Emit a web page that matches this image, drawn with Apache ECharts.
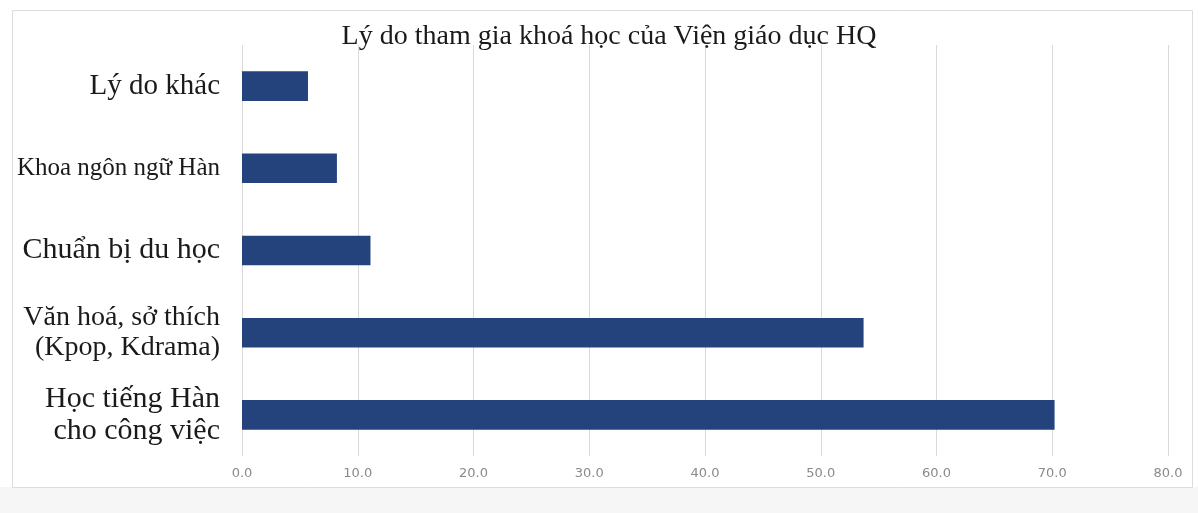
<!DOCTYPE html>
<html>
<head>
<meta charset="utf-8">
<script src="https://cdn.jsdelivr.net/npm/echarts@6/dist/echarts.min.js"></script>
<style>
html,body{margin:0;padding:0;background:#ffffff;}
#c{width:1198px;height:513px;}
</style>
</head>
<body>
<div id="c"></div>
<script>
const titleText = 'Lý do tham gia khoá học của Viện giáo dục HQ';
const categories = ['Học tiếng Hàn\ncho công việc', 'Văn hoá, sở thích\n(Kpop, Kdrama)', 'Chuẩn bị du học', 'Khoa ngôn ngữ Hàn', 'Lý do khác'];
const labelSizes = [30, 28, 30, 25, 29];
const values = [70.2, 53.7, 11.1, 8.2, 5.7];
const xTicks = [0, 10, 20, 30, 40, 50, 60, 70, 80];

const chart = echarts.init(document.getElementById('c'));
chart.setOption({
  backgroundColor: '#ffffff',
  animation: false,
  title: {
    text: titleText,
    left: 604, top: 18, textAlign: 'center',
    textStyle: {fontFamily: 'Liberation Serif', fontSize: 28, fontWeight: 'normal', color: '#1a1a1a'}
  },
  graphic: [
    {type: 'rect', z: -10, shape: {x: 0, y: 487, width: 1198, height: 26}, style: {fill: '#f6f6f6'}},
    {type: 'rect', z: -9, shape: {x: 12.5, y: 10.5, width: 1180, height: 477}, style: {fill: 'none', stroke: '#dcdcdc', lineWidth: 1}}
  ],
  grid: {left: 242, right: 30, top: 45, bottom: 57, containLabel: false},
  xAxis: {
    type: 'value', min: xTicks[0], max: xTicks[xTicks.length - 1], interval: 10,
    axisLine: {show: false}, axisTick: {show: false},
    splitLine: {show: true, lineStyle: {color: '#dadada', width: 1}},
    axisLabel: {formatter: v => v.toFixed(1), color: '#8a8a8a', fontSize: 13, fontFamily: 'DejaVu Sans', margin: 11}
  },
  yAxis: {
    type: 'category',
    data: categories.map((c, i) => ({value: c, textStyle: {fontSize: labelSizes[i], lineHeight: Math.round(labelSizes[i] * 1.08)}})),
    axisLine: {show: false}, axisTick: {show: false},
    axisLabel: {color: '#1a1a1a', fontFamily: 'Liberation Serif', margin: 22, align: 'right'}
  },
  series: [{
    type: 'bar', data: values, barWidth: '36%',
    itemStyle: {color: '#24427c'}
  }]
});
</script>
</body>
</html>
